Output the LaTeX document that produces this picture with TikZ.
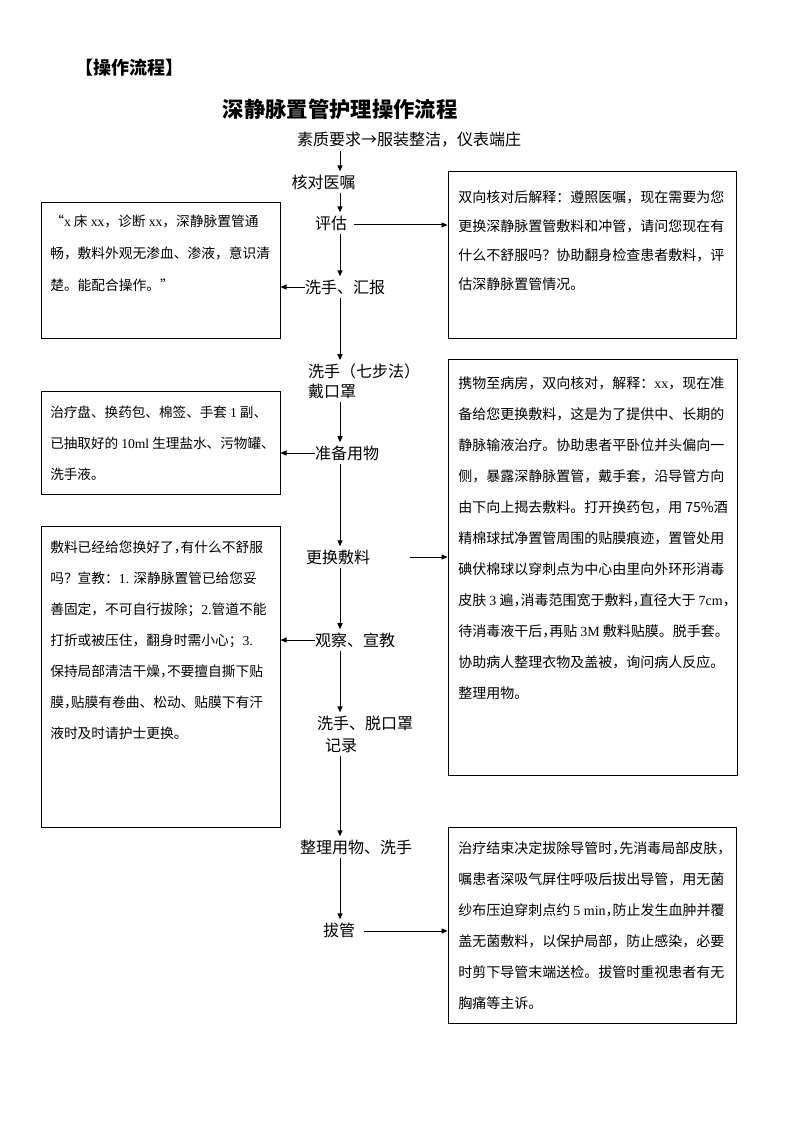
\documentclass[tikz,border=0pt]{standalone}
\usepackage{fontspec}
\setmainfont{Noto Sans CJK SC}
\newfontfamily\lat{Liberation Serif}
\newfontfamily\cjkhalt[RawFeature=+halt]{Noto Sans CJK SC}
\newcommand\hc{{\cjkhalt ，}}
\usetikzlibrary{arrows.meta,fit}
\begin{document}
\begin{tikzpicture}[x=0.75pt,y=-0.75pt,
  lbl/.style={font=\fontsize{12}{14}\selectfont, inner xsep=0pt, inner ysep=2.5pt, outer sep=0pt},
  arr/.style={line width=0.75pt, -{Triangle[length=4.5pt,width=3.8pt]}},
  box/.style={draw, line width=0.75pt, inner sep=0pt},
  txt/.style={font=\fontsize{10.5}{23.25}\selectfont, align=left, inner sep=0pt, anchor=north west}]
\useasboundingbox[fill=white] (0,0) rectangle (794,1123);
\coordinate (col) at (340,0);

% headings
\node[font=\bfseries\fontsize{13.5}{16}\selectfont, anchor=west, inner sep=0pt] (hdr) at (75,68) {【操作流程】};
\node[font=\bfseries\fontsize{16}{18}\selectfont, inner sep=0pt] (title) at (340,109) {深静脉置管护理操作流程};

% centre column
\node[lbl, anchor=west] (s0) at (297,140) {素质要求→服装整洁，仪表端庄};
\node[lbl] (s1) at (323.5,182) {核对医嘱};
\node[lbl] (s2) at (331,223) {评估};
\node[lbl, anchor=west] (s3) at (305,287) {洗手、汇报};
\node[lbl, anchor=west, align=left, font=\fontsize{12}{15}\selectfont] (s4) at (308,381) {洗手（七步法）\\戴口罩};
\node[lbl, anchor=west] (s5) at (315,453) {准备用物};
\node[lbl, anchor=west] (s6) at (306,557) {更换敷料};
\node[lbl, anchor=west] (s7) at (315,640) {观察、宣教};
\node[lbl, anchor=west, align=left, font=\fontsize{12}{16.5}\selectfont] (s8) at (317,734) {洗手、脱口罩\\\hspace{6pt}记录};
\node[lbl, anchor=west] (s9) at (300,847) {整理用物、洗手};
\node[lbl] (s10) at (339,930) {拔管};

% boxes
\node[box, fit={(448,172) (736,338)}] (r1) {};
\node[box, fit={(41,203) (280,338)}] (l1) {};
\node[box, fit={(41,391) (280,494)}] (l2) {};
\node[box, fit={(448,359) (737,775)}] (r2) {};
\node[box, fit={(41,526) (280,827)}] (l3) {};
\node[box, fit={(448,827) (736,1023)}] (r3) {};

% box texts
\node[txt, font=\fontsize{10.5}{21.75}\selectfont] (r1t) at (458,190) {双向核对后解释：遵照医嘱，现在需要为您\\更换深静脉置管敷料和冲管，请问您现在有\\什么不舒服吗？协助翻身检查患者敷料，评\\估深静脉置管情况。};
\node[txt, font=\fontsize{10.3}{24}\selectfont] (l1t) at (50,215) {“{\lat x} 床 {\lat xx}，诊断 {\lat xx}，深静脉置管通\\畅，敷料外观无渗血、渗液，意识清\\楚。能配合操作。”};
\node[txt, font=\fontsize{10.2}{23.25}\selectfont] (l2t) at (50,406) {治疗盘、换药包、棉签、手套 {\lat 1} 副、\\已抽取好的 {\lat 10ml} 生理盐水、污物罐、\\洗手液。};
\node[txt] (r2t) at (458,376) {携物至病房，双向核对，解释：{\lat xx}，现在准\\备给您更换敷料，这是为了提供中、长期的\\静脉输液治疗。协助患者平卧位并头偏向一\\侧，暴露深静脉置管，戴手套，沿导管方向\\由下向上揭去敷料。打开换药包，用 75\%酒\\精棉球拭净置管周围的贴膜痕迹，置管处用\\碘伏棉球以穿刺点为中心由里向外环形消毒\\皮肤 {\lat 3} 遍\hc 消毒范围宽于敷料\hc 直径大于 {\lat 7cm}，\\待消毒液干后\hc 再贴 {\lat 3M} 敷料贴膜。脱手套。\\协助病人整理衣物及盖被，询问病人反应。\\整理用物。};
\node[txt, font=\fontsize{10.3}{23.25}\selectfont] (l3t) at (50,541) {敷料已经给您换好了\hc 有什么不舒服\\吗？宣教：{\lat 1.} 深静脉置管已给您妥\\善固定，不可自行拔除；{\lat 2.}管道不能\\打折或被压住，翻身时需小心；{\lat 3.}\\保持局部清洁干燥\hc 不要擅自撕下贴\\膜\hc 贴膜有卷曲、松动、贴膜下有汗\\液时及时请护士更换。};
\node[txt] (r3t) at (458,841) {治疗结束决定拔除导管时\hc 先消毒局部皮肤，\\嘱患者深吸气屏住呼吸后拔出导管，用无菌\\纱布压迫穿刺点约 {\lat 5 min}\hc 防止发生血肿并覆\\盖无菌敷料，以保护局部，防止感染，必要\\时剪下导管末端送检。拔管时重视患者有无\\胸痛等主诉。};

% vertical connectors
\draw[arr] (s0.south -| col) -- (s1.north -| col);
\draw[arr] (s1.south -| col) -- (s2.north -| col);
\draw[arr] (s2.south -| col) -- (s3.north -| col);
\draw[arr] (s3.south -| col) -- (s4.north -| col);
\draw[arr] (s4.south -| col) -- (s5.north -| col);
\draw[arr] (s5.south -| col) -- (s6.north -| col);
\draw[arr] (s6.south -| col) -- (s7.north -| col);
\draw[arr] (s7.south -| col) -- (s8.north -| col);
\draw[arr] (s8.south -| col) -- (s9.north -| col);
\draw[arr] (s9.south -| col) -- (s10.north -| col);

% horizontal connectors
\draw[arr] (s2.east) ++(7,2) -- (r1.west |- 0,225);
\draw[arr] (s3.west) -- (l1.east |- s3);
\draw[arr] (s5.west) -- (l2.east |- s5);
\draw[arr] (s6.east) ++(40,0) -- (r2.west |- s6);
\draw[arr] (s7.west) -- (l3.east |- s7);
\draw[arr] (s10.east) ++(9,1) -- (r3.west |- 0,931);
\end{tikzpicture}
\end{document}
